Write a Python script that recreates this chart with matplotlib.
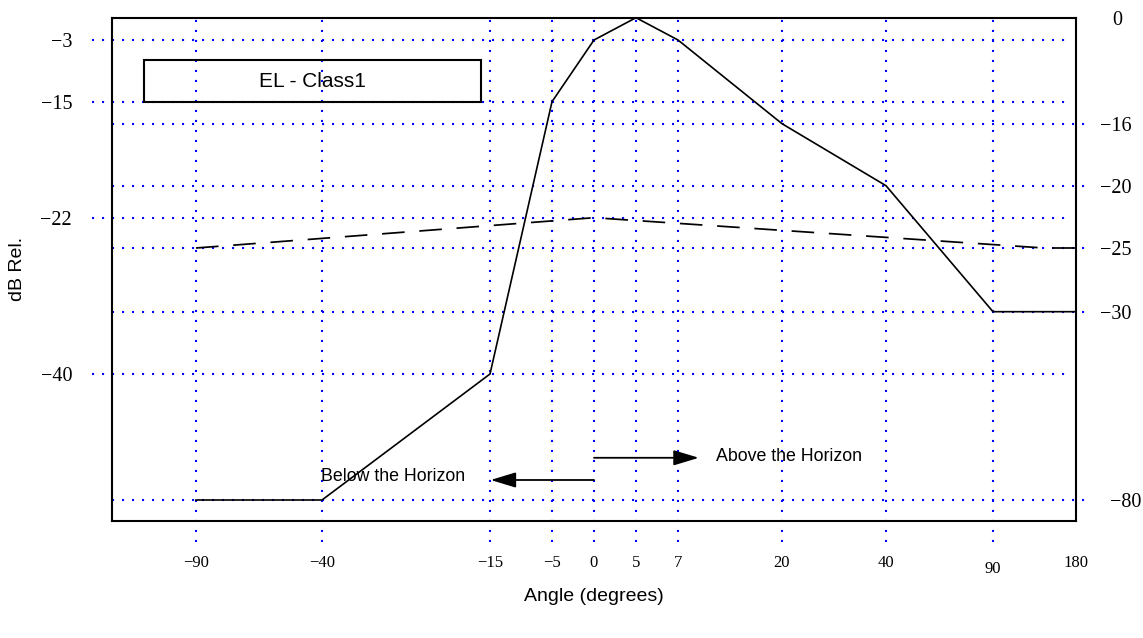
import numpy as np
import matplotlib.pyplot as plt
from matplotlib.patches import Rectangle
from matplotlib.transforms import ScaledTranslation

# pattern values
angle = [-90, -40, -15, -5, 0, 5, 7, 20, 40, 90, 180]
level = [-80, -80, -40, -15, -3, 0, -3, -16, -20, -30, -30]
ref_angle = [-90, 0, 145, 180]
ref_level = [-25, -22, -25, -25]

x_ticks = [-90, -40, -15, -5, 0, 5, 7, 20, 40, 90, 180]
left_ticks = [-3, -15, -22, -40]
right_ticks = [0, -16, -20, -25, -30, -80]

# the drawing is not to scale: break points of both axes (pixel spacing)
x_knots = [-90, -40, -15, -5, 0, 5, 7, 20, 40, 90, 180]
x_px = [196, 322, 490, 552, 594, 636, 678, 782, 886, 993, 1076]
y_knots = [-80, -40, -30, -25, -22, -20, -16, -15, -3, 0]
y_px = [21, 147, 209.3, 273, 303.3, 335.3, 397.3, 419.3, 481, 503.3]


def piecewise(xp, fp):
    xp = np.asarray(xp, float)
    fp = np.asarray(fp, float)
    lo_s = (fp[1] - fp[0]) / (xp[1] - xp[0])
    hi_s = (fp[-1] - fp[-2]) / (xp[-1] - xp[-2])

    def f(v):
        v = np.asarray(v, float)
        out = np.interp(v, xp, fp)
        out = np.where(v < xp[0], fp[0] + (v - xp[0]) * lo_s, out)
        out = np.where(v > xp[-1], fp[-1] + (v - xp[-1]) * hi_s, out)
        return out
    return f


x_fwd, x_inv = piecewise(x_knots, x_px), piecewise(x_px, x_knots)
y_fwd, y_inv = piecewise(y_knots, y_px), piecewise(y_px, y_knots)


def lab(v):
    return str(v).replace('-', '\u2212')


def nudge(label, dx, dy):
    # shift a tick label by some pixels (dpi 100)
    label.set_transform(label.get_transform()
                        + ScaledTranslation(dx / 100, dy / 100, fig.dpi_scale_trans))


serif = 'Liberation Serif'
sans = 'Liberation Sans'

fig = plt.figure(figsize=(11.43, 6.38), dpi=100)
ax = fig.add_axes([0.09799, 0.18339, 0.84339, 0.78887])
ax.set_xscale('function', functions=(x_fwd, x_inv))
ax.set_yscale('function', functions=(y_fwd, y_inv))
ax.set_xlim(float(x_inv(112)), 180)
ax.set_ylim(float(y_inv(0)), 0)

grid_kw = dict(color='#0000ff', lw=1.5, ls=(0, (1, 3.8)), clip_on=False, zorder=1)
for v in x_ticks[:-1]:
    ax.axvline(v, ymin=-0.042, ymax=1, **grid_kw)
for v in left_ticks:
    ax.axhline(v, xmin=-0.0207, xmax=0.9927, **grid_kw)
for v in right_ticks[1:]:
    ax.axhline(v, xmin=0, xmax=1.0145, **grid_kw)

ax.plot(angle, level, color='black', lw=1.2, zorder=3)
ax.plot(ref_angle, ref_level, color='black', lw=1.25, ls=(0, (13, 8.5)), zorder=3)

ax.set_xticks(x_ticks, [lab(v) for v in x_ticks], fontfamily=serif, fontsize=12)
ax.set_yticks(left_ticks, [lab(v) for v in left_ticks], fontfamily=serif, fontsize=14.5)
ax.minorticks_off()
ax.tick_params(axis='x', length=0, pad=24.5)
ax.tick_params(axis='y', length=0, pad=28.8)

ax2 = ax.twinx()
ax2.set_yscale('function', functions=(y_fwd, y_inv))
ax2.set_ylim(ax.get_ylim())
ax2.set_yticks(right_ticks, [lab(v) for v in right_ticks], fontfamily=serif, fontsize=14.5)
ax2.minorticks_off()
ax2.tick_params(axis='y', length=0, pad=17.3)
for s in ax2.spines.values():
    s.set_visible(False)
for s in ax.spines.values():
    s.set_linewidth(1.5)

# a few labels are set off a little on the original
for t in ax.xaxis.get_major_ticks():
    if t.label1.get_text() == '90':
        nudge(t.label1, 0, -6)
for t in ax2.yaxis.get_major_ticks():
    if t.label2.get_text() == '0':
        nudge(t.label2, 12, 0)
    elif t.label2.get_text() == '\u221280':
        nudge(t.label2, 10, 0)

ax.set_xlabel('Angle (degrees)', fontsize=14, family=sans)
ax.xaxis.set_label_coords(0.5, -0.151)
ax.xaxis.label.set_va('center')
ax.set_ylabel('dB Rel.', fontsize=14, family=sans)
ax.yaxis.set_label_coords(-0.0985, 0.5)
ax.yaxis.label.set_va('center')

arrow_kw = dict(arrowstyle='-|>,head_length=15.5,head_width=4.7', mutation_scale=1,
                lw=1.3, color='black', shrinkA=0, shrinkB=0)
ax.annotate('', xy=(9.6, -66.6), xytext=(0, -66.6), arrowprops=arrow_kw)
ax.annotate('', xy=(-14.9, -73.65), xytext=(0, -73.65), arrowprops=arrow_kw)
ax.text(11.75, -66.3, 'Above the Horizon', ha='left', va='center', fontsize=12.8, family=sans)
ax.text(-40.2, -72.6, 'Below the Horizon', ha='left', va='center', fontsize=12.8, family=sans)

ax.add_patch(Rectangle((0.0329, 0.8331), 0.3499, 0.0829, transform=ax.transAxes,
                       fill=False, lw=1.5, ec='black', zorder=2))
ax.text(0.208, 0.874, 'EL - Class1', transform=ax.transAxes, ha='center', va='center',
        fontsize=15, family=sans)

fig.savefig('out.png', dpi=100)
